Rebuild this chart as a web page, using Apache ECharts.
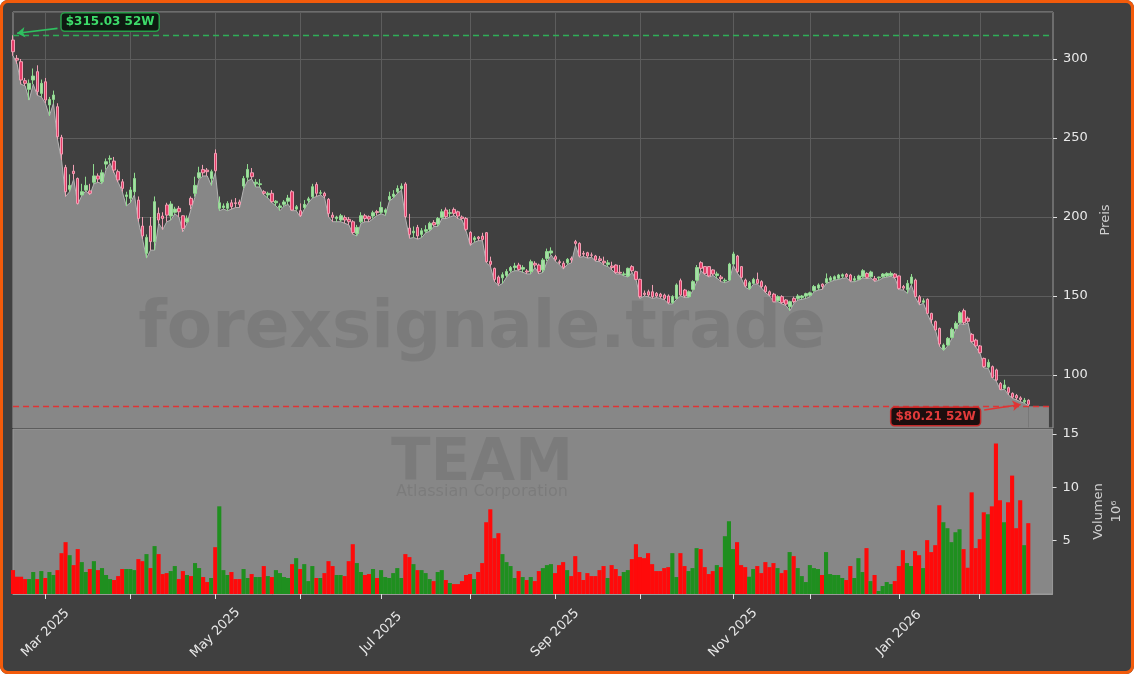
<!DOCTYPE html>
<html>
<head>
<meta charset="utf-8">
<script src="https://cdn.jsdelivr.net/npm/echarts@6/dist/echarts.min.js"></script>
<style>
  html, body { margin: 0; padding: 0; background: #ffffff; }
  #chart { position: absolute; left: 0; top: 0; width: 1134px; height: 674px; background: #404040; border-radius: 8px; }
  #frame { position: absolute; left: 0; top: 0; width: 1134px; height: 674px; box-sizing: border-box;
           border: 3px solid #f35b0b; border-radius: 8px; pointer-events: none; }
</style>
</head>
<body>
<div id="chart"></div>
<div id="frame"></div>
<script>
// TEAM daily candles, 2025-02-19 .. 2026-02-19
const startDay = '2025-02-19'
const holidays = ['2025-04-18', '2025-05-26', '2025-06-19', '2025-07-04', '2025-09-01',
  '2025-11-27', '2025-12-25', '2026-01-01', '2026-01-19', '2026-02-16']
const padDays = 6
const monthNames = ['Jan', 'Feb', 'Mar', 'Apr', 'May', 'Jun', 'Jul', 'Aug', 'Sep', 'Oct', 'Nov', 'Dec']

const open = [
  312.0, 300.4, 298.3, 286.3, 280.8, 286.7, 292.0, 278.2, 285.6, 270.9,
  274.4, 269.8, 250.4, 231.4, 217.5, 229.0, 224.4, 214.0, 217.0, 216.5,
  222.0, 226.0, 222.3, 233.5, 236.6, 235.4, 228.7, 222.3, 213.0, 211.8,
  216.0, 210.7, 194.3, 177.0, 194.3, 184.4, 202.3, 200.6, 207.6, 200.6,
  203.0, 205.5, 200.8, 197.0, 211.8, 215.0, 225.0, 230.0, 229.7, 224.4,
  240.3, 205.5, 206.0, 205.5, 209.0, 209.0, 209.5, 219.6, 225.1, 228.0,
  221.0, 220.5, 216.0, 214.0, 215.0, 209.0, 206.0, 208.0, 210.0, 216.0,
  205.0, 204.0, 206.0, 210.5, 212.8, 220.6, 215.0, 215.0, 211.2, 201.2,
  199.0, 198.1, 199.6, 198.5, 197.0, 189.6, 197.0, 200.8, 200.2, 200.6,
  203.4, 203.0, 203.0, 211.0, 213.0, 216.0, 218.0, 220.9, 193.0, 190.0,
  193.4, 189.0, 191.0, 192.2, 196.5, 195.5, 199.8, 204.4, 202.3, 204.8,
  203.3, 200.0, 199.1, 190.3, 185.6, 187.3, 187.9, 190.1, 172.0, 167.5,
  162.0, 161.5, 163.0, 166.0, 168.0, 169.6, 167.0, 165.8, 165.4, 170.7,
  169.6, 166.5, 173.8, 177.2, 174.9, 171.7, 170.7, 171.0, 173.8, 184.4,
  183.3, 177.0, 177.4, 176.0, 175.3, 173.5, 172.0, 170.0, 169.0, 169.6,
  165.0, 163.5, 162.7, 168.6, 165.4, 160.5, 151.8, 152.7, 152.7, 151.7,
  151.2, 150.6, 150.0, 145.8, 148.5, 159.7, 153.8, 149.6, 154.2, 160.0,
  171.1, 168.6, 168.6, 166.5, 163.0, 162.0, 159.5, 160.1, 170.2, 175.3,
  168.6, 160.1, 154.8, 158.0, 160.5, 159.1, 155.9, 152.7, 151.2, 147.0,
  149.6, 147.5, 143.2, 148.5, 148.5, 149.0, 150.0, 150.5, 153.5, 155.0,
  157.5, 158.5, 160.0, 160.5, 161.2, 162.5, 163.7, 163.3, 160.0, 160.5,
  162.2, 164.3, 162.2, 161.0, 161.5, 162.2, 162.7, 163.0, 163.9, 162.7,
  156.0, 154.0, 158.0, 160.1, 149.5, 146.0, 147.9, 139.0, 133.8, 129.5,
  116.2, 119.0, 123.8, 129.5, 133.1, 140.7, 135.9, 125.7, 122.1, 118.4,
  110.5, 105.0, 105.3, 103.2, 94.7, 91.6, 92.0, 88.4, 87.0, 85.5,
  83.0, 84.0
]
const high = [
  315.03, 302.5, 300.0, 288.0, 287.0, 294.0, 296.0, 287.0, 288.0, 276.0,
  280.0, 272.0, 252.0, 233.0, 227.0, 233.0, 225.0, 221.0, 225.5, 221.0,
  233.5, 227.6, 230.0, 237.0, 239.0, 238.0, 230.0, 224.0, 216.0, 219.0,
  228.0, 213.0, 200.0, 189.0, 200.0, 213.0, 206.0, 203.0, 209.0, 210.0,
  206.5, 207.0, 201.0, 201.0, 213.0, 225.5, 231.8, 233.0, 231.0, 230.0,
  242.8, 213.0, 208.6, 210.0, 211.0, 212.0, 211.0, 226.0, 233.5, 231.0,
  224.0, 224.0, 217.0, 216.0, 217.0, 210.7, 208.6, 210.7, 214.0, 217.0,
  207.6, 208.6, 210.7, 212.8, 221.0, 222.0, 217.0, 216.0, 212.0, 203.0,
  200.8, 202.0, 201.0, 200.0, 198.0, 195.0, 203.0, 202.0, 201.0, 204.0,
  204.5, 209.7, 205.5, 216.0, 217.0, 220.0, 221.3, 222.0, 202.0, 194.0,
  195.0, 193.0, 194.8, 197.0, 198.0, 200.0, 205.0, 206.0, 205.0, 206.0,
  204.0, 201.0, 200.0, 191.0, 188.0, 188.0, 190.0, 190.5, 174.9, 168.0,
  163.0, 165.0, 167.0, 169.0, 171.0, 171.0, 169.5, 167.0, 173.0, 172.0,
  170.5, 174.0, 180.0, 180.8, 176.0, 173.0, 172.0, 174.0, 175.0, 185.5,
  184.0, 178.5, 178.0, 177.5, 176.0, 175.3, 174.9, 172.8, 171.7, 170.0,
  169.6, 165.4, 168.0, 169.5, 166.0, 161.0, 153.5, 154.0, 157.0, 152.5,
  152.0, 151.5, 151.0, 150.5, 158.0, 161.0, 154.5, 153.5, 160.0, 169.6,
  172.0, 169.0, 169.0, 167.0, 165.4, 163.3, 161.2, 171.0, 178.0, 176.0,
  169.0, 161.0, 159.5, 161.5, 164.8, 160.0, 157.0, 153.5, 152.0, 150.5,
  150.5, 148.0, 147.0, 149.6, 151.2, 150.6, 152.1, 152.7, 157.0, 158.0,
  158.0, 164.3, 162.7, 163.0, 164.0, 164.3, 164.5, 164.0, 162.7, 163.5,
  167.0, 165.0, 166.0, 162.7, 162.2, 164.5, 165.0, 165.5, 164.5, 163.0,
  157.0, 160.1, 163.9, 161.0, 150.6, 148.5, 148.5, 139.4, 134.5, 130.0,
  120.0, 124.0, 130.0, 134.0, 140.5, 142.0, 137.0, 126.5, 123.0, 119.0,
  111.0, 109.9, 106.0, 104.0, 95.5, 97.0, 92.6, 89.0, 88.0, 86.5,
  85.5, 84.6
]
const low = [
  302.0, 297.0, 284.0, 283.0, 274.0, 284.0, 277.0, 276.0, 272.0, 264.0,
  272.0, 249.0, 236.0, 213.0, 216.0, 224.0, 208.0, 213.5, 216.5, 214.0,
  221.0, 222.0, 221.0, 230.0, 234.0, 228.0, 222.0, 216.0, 207.0, 209.0,
  214.0, 197.0, 186.0, 174.0, 179.0, 179.0, 196.0, 192.0, 197.0, 198.0,
  202.0, 200.0, 190.7, 196.0, 205.0, 212.8, 224.0, 226.0, 226.0, 220.0,
  228.0, 204.0, 205.0, 204.0, 205.0, 206.0, 206.0, 218.0, 223.0, 224.0,
  219.0, 219.0, 214.0, 212.0, 209.0, 207.0, 204.0, 207.0, 208.0, 204.0,
  204.0, 200.0, 205.0, 209.0, 212.0, 213.0, 214.0, 212.0, 200.0, 197.0,
  197.0, 197.0, 196.0, 195.0, 189.0, 188.0, 196.0, 197.0, 197.0, 199.0,
  201.0, 202.0, 201.0, 210.0, 212.0, 215.0, 217.0, 199.0, 186.5, 187.0,
  186.0, 187.0, 190.0, 191.0, 194.0, 194.0, 199.0, 199.0, 200.0, 201.0,
  199.0, 198.0, 191.0, 182.0, 184.0, 185.0, 185.0, 171.0, 168.5, 159.0,
  156.5, 158.0, 162.0, 165.0, 166.0, 166.0, 165.0, 164.0, 164.0, 168.0,
  164.0, 165.0, 172.0, 176.0, 172.0, 170.0, 167.0, 170.0, 171.0, 182.0,
  174.5, 175.0, 174.0, 174.5, 172.0, 171.7, 169.6, 168.6, 166.5, 164.0,
  163.9, 162.7, 162.0, 165.0, 160.0, 148.5, 150.0, 149.5, 148.5, 149.0,
  148.5, 147.5, 145.0, 145.0, 148.0, 150.0, 149.0, 149.0, 153.5, 159.1,
  166.0, 163.5, 162.0, 163.0, 161.2, 159.1, 158.4, 159.5, 169.5, 164.5,
  161.0, 155.5, 154.0, 157.5, 157.5, 155.0, 152.0, 150.0, 146.0, 146.5,
  145.0, 144.0, 140.7, 145.4, 147.5, 147.9, 148.5, 149.6, 152.7, 153.8,
  154.2, 158.0, 159.1, 160.0, 160.5, 161.2, 161.5, 159.0, 159.1, 160.0,
  161.5, 161.0, 161.5, 159.1, 160.0, 161.5, 162.0, 162.5, 161.0, 154.0,
  153.8, 151.7, 157.0, 149.0, 144.3, 145.4, 138.5, 132.7, 128.0, 118.0,
  115.5, 118.5, 123.0, 129.0, 132.5, 132.0, 133.0, 120.5, 117.5, 113.5,
  104.5, 104.2, 98.0, 96.0, 90.5, 91.0, 87.3, 85.2, 84.2, 83.1,
  82.1, 80.21
]
const close = [
  304.6, 299.3, 286.7, 284.6, 284.6, 289.2, 279.3, 284.6, 274.0, 274.4,
  277.2, 250.8, 239.8, 216.0, 220.0, 227.5, 208.6, 216.0, 220.0, 215.0,
  226.0, 224.0, 228.0, 235.0, 237.1, 229.7, 223.4, 218.1, 214.0, 217.1,
  224.4, 199.1, 188.0, 187.1, 184.4, 209.7, 198.1, 199.1, 201.2, 208.2,
  205.0, 203.3, 192.8, 199.0, 207.6, 220.0, 228.0, 228.0, 228.7, 228.7,
  229.3, 209.0, 207.0, 208.6, 206.5, 208.5, 208.0, 224.4, 230.1, 225.5,
  222.0, 221.0, 215.0, 215.0, 209.7, 210.0, 207.0, 209.5, 212.0, 204.4,
  206.5, 201.0, 208.0, 211.5, 219.2, 215.0, 215.4, 213.3, 202.3, 199.8,
  200.0, 200.8, 198.1, 197.0, 190.1, 193.4, 200.8, 199.1, 198.7, 202.7,
  202.8, 206.0, 204.5, 213.0, 214.5, 218.0, 219.6, 200.2, 189.0, 191.0,
  188.0, 191.3, 192.0, 196.0, 195.0, 199.1, 203.3, 200.2, 202.7, 202.3,
  200.6, 199.0, 192.2, 183.3, 186.8, 186.4, 185.8, 171.7, 170.0, 160.5,
  158.0, 163.5, 165.5, 168.0, 169.0, 166.8, 168.0, 165.2, 171.7, 169.6,
  165.4, 172.8, 178.1, 178.5, 173.2, 171.2, 168.1, 173.2, 172.8, 183.3,
  175.3, 176.5, 175.3, 175.8, 172.8, 172.5, 171.0, 171.0, 168.0, 164.8,
  164.5, 164.0, 167.5, 166.0, 160.5, 149.6, 151.0, 150.6, 149.6, 150.0,
  149.6, 148.5, 145.8, 149.6, 157.0, 150.6, 150.0, 152.7, 159.1, 168.0,
  167.5, 164.3, 162.7, 163.9, 164.0, 161.0, 160.0, 170.2, 176.6, 165.4,
  161.8, 156.3, 158.4, 160.5, 158.0, 155.9, 152.7, 150.6, 146.4, 149.6,
  145.8, 144.9, 146.4, 146.5, 150.0, 150.0, 151.5, 152.0, 156.0, 157.0,
  156.0, 161.0, 161.5, 162.2, 163.3, 163.5, 162.2, 159.7, 161.0, 162.7,
  166.0, 161.8, 165.2, 160.0, 162.0, 163.9, 164.3, 164.3, 161.8, 154.8,
  155.0, 158.0, 162.0, 149.6, 146.0, 147.0, 139.0, 135.0, 128.5, 119.6,
  119.0, 123.2, 128.9, 132.7, 139.4, 133.1, 134.0, 121.1, 118.4, 114.1,
  105.3, 108.0, 98.5, 96.8, 90.9, 93.7, 89.0, 86.0, 85.5, 84.5,
  84.0, 81.5
]
// volume in millions
const volume = [
  2.24, 1.62, 1.62, 1.40, 1.40, 2.06, 1.40, 2.15, 1.50, 2.06,
  1.78, 2.24, 3.83, 4.86, 3.64, 2.71, 4.21, 2.99, 2.06, 2.34,
  3.08, 2.24, 2.43, 1.78, 1.40, 1.31, 1.68, 2.34, 2.34, 2.34,
  2.24, 3.27, 3.08, 3.74, 2.43, 4.49, 3.74, 1.87, 1.96, 2.15,
  2.62, 1.40, 2.15, 1.78, 1.68, 2.90, 2.43, 1.59, 1.12, 1.50,
  4.39, 8.22, 2.24, 1.78, 2.06, 1.40, 1.40, 2.34, 1.50, 1.87,
  1.59, 1.59, 2.62, 1.68, 1.59, 2.24, 1.96, 1.59, 1.50, 2.80,
  3.36, 2.34, 2.80, 1.21, 2.62, 1.50, 1.50, 1.96, 3.08, 2.62,
  1.78, 1.78, 1.68, 3.08, 4.67, 2.90, 2.06, 1.78, 1.87, 2.34,
  1.50, 2.24, 1.59, 1.50, 1.96, 2.43, 1.50, 3.74, 3.46, 2.80,
  2.24, 2.24, 1.96, 1.40, 1.21, 2.06, 2.24, 1.31, 1.03, 0.93,
  0.93, 1.21, 1.78, 1.87, 1.40, 2.06, 2.90, 6.73, 7.94, 5.23,
  5.70, 3.74, 2.99, 2.62, 1.50, 2.15, 1.59, 1.31, 1.59, 1.21,
  2.15, 2.43, 2.71, 2.80, 1.96, 2.71, 2.99, 2.24, 1.68, 3.55,
  2.06, 1.31, 1.96, 1.68, 1.68, 2.24, 2.62, 1.50, 2.71, 2.34,
  1.68, 2.06, 2.24, 3.27, 4.67, 3.46, 3.36, 3.83, 2.80, 2.15,
  2.15, 2.43, 2.52, 3.83, 1.59, 3.83, 2.62, 2.15, 2.43, 4.30,
  4.21, 2.52, 1.87, 2.15, 2.71, 2.52, 5.42, 6.82, 4.21, 4.86,
  2.71, 2.52, 1.62, 2.34, 2.62, 1.96, 2.99, 2.52, 2.90, 2.43,
  1.96, 2.24, 3.93, 3.55, 2.43, 1.68, 1.12, 2.71, 2.43, 2.34,
  1.78, 3.93, 1.87, 1.78, 1.78, 1.50, 1.31, 2.62, 1.50, 3.36,
  2.06, 4.30, 1.21, 1.78, 0.28, 0.75, 1.12, 0.93, 1.21, 2.62,
  4.11, 2.90, 2.62, 4.02, 3.64, 2.43, 5.05, 3.93, 4.58, 8.32,
  6.73, 6.17, 4.86, 5.79, 6.07, 4.21, 2.46, 9.53, 4.30, 5.14,
  7.66, 7.48, 8.22, 14.1, 8.79, 6.73, 8.60, 11.1, 6.17, 8.79,
  4.58, 6.64
]

// trading-day categories (weekends and exchange holidays skipped), plus a few empty days on the right
function tradingDays(start, count) {
  const out = []
  const d = new Date(start + 'T12:00:00Z')
  while (out.length < count) {
    const iso = d.toISOString().slice(0, 10)
    const wd = d.getUTCDay()
    if (wd !== 0 && wd !== 6 && !holidays.includes(iso)) out.push(iso)
    d.setUTCDate(d.getUTCDate() + 1)
  }
  return out
}
const dates = tradingDays(startDay, close.length + padDays)

const monthStart = dates.map((d, i) => i > 0 && d.slice(5, 7) !== dates[i - 1].slice(5, 7))
const isMonthTick = (i) => monthStart[i]
const isMonthLabel = (i) => monthStart[i] && (+dates[i].slice(5, 7)) % 2 === 1

const high52 = Math.max(...high)
const low52 = Math.min(...low)
const priceMin = 66.46
const priceMax = 329.75
const volMax = 15.47

const UP = '#a8dca8', UP_EDGE = '#8fdc8f'
const DOWN = '#e43c68', DOWN_EDGE = '#f0a0b4'
const VOL_UP = '#1f8f1f', VOL_DOWN = '#ff0a0a'
const FILL = '#878787'
const FONT = 'DejaVu Sans'
const WATERMARK = 'rgba(0,0,0,0.085)'

const candles = open.map((o, i) => [o, close[i], low[i], high[i]])
const volBars = volume.map((v, i) => ({
  value: v,
  itemStyle: { color: close[i] >= open[i] ? VOL_UP : VOL_DOWN },
}))

const chart = echarts.init(document.getElementById('chart'))

chart.setOption({
  animation: false,
  backgroundColor: 'transparent',
  textStyle: { fontFamily: FONT },
  grid: [
    { left: 13, right: 81, top: 12, height: 416, show: true, borderColor: '#9a9a9a', borderWidth: 1 },
    { left: 13, right: 81, top: 429, height: 165, show: true, borderColor: '#9a9a9a', borderWidth: 1, backgroundColor: FILL },
  ],
  xAxis: [
    {
      type: 'category', gridIndex: 0, data: dates, boundaryGap: false,
      axisLine: { show: false }, axisTick: { show: false }, axisLabel: { show: false },
      splitLine: { show: true, interval: isMonthTick, lineStyle: { color: '#5d5d5d', width: 1 } },
    },
    {
      type: 'category', gridIndex: 1, data: dates, boundaryGap: false,
      axisLine: { show: true, lineStyle: { color: '#9a9a9a' } },
      axisTick: { show: true, interval: isMonthTick, length: 5, lineStyle: { color: '#e0e0e0' } },
      axisLabel: {
        interval: isMonthLabel, rotate: 45, align: 'center', verticalAlign: 'middle', margin: 39,
        color: '#e8e8e8', fontSize: 13, fontFamily: FONT,
        formatter: (v) => monthNames[+v.slice(5, 7) - 1] + ' ' + v.slice(0, 4),
      },
      splitLine: { show: false },
    },
  ],
  yAxis: [
    {
      type: 'value', gridIndex: 0, position: 'right', min: priceMin, max: priceMax, splitNumber: 5,
      axisLine: { show: false },
      axisTick: { show: true, length: 4, lineStyle: { color: '#e0e0e0' } },
      axisLabel: { color: '#e8e8e8', fontSize: 13, fontFamily: FONT, margin: 10, showMinLabel: false, showMaxLabel: false },
      splitLine: { show: true, lineStyle: { color: '#5d5d5d', width: 1 } },
      name: 'Preis', nameLocation: 'middle', nameRotate: 90, nameGap: 44,
      nameTextStyle: { color: '#cfcfcf', fontSize: 13, fontFamily: FONT },
    },
    {
      type: 'value', gridIndex: 1, position: 'right', min: 0, max: volMax, interval: 5,
      axisLine: { show: false },
      axisTick: { show: true, length: 4, lineStyle: { color: '#e0e0e0' } },
      axisLabel: { color: '#e8e8e8', fontSize: 13, fontFamily: FONT, margin: 10, showMinLabel: false, showMaxLabel: false },
      splitLine: { show: false },
      name: 'Volumen\n10⁶', nameLocation: 'middle', nameRotate: 90, nameGap: 34,
      nameTextStyle: { color: '#cfcfcf', fontSize: 13, fontFamily: FONT, lineHeight: 18 },
    },
  ],
  graphic: [
    {
      type: 'text', x: 482, y: 330, z: 100, silent: true,
      style: { text: 'forexsignale.trade', font: 'bold 66px "DejaVu Sans"', fill: WATERMARK, align: 'center', verticalAlign: 'middle' },
    },
    {
      type: 'text', x: 482, y: 465, z: 100, silent: true,
      style: { text: 'TEAM', font: 'bold 58px "DejaVu Sans"', fill: WATERMARK, align: 'center', verticalAlign: 'middle' },
    },
    {
      type: 'text', x: 482, y: 492, z: 100, silent: true,
      style: { text: 'Atlassian Corporation', font: '16px "DejaVu Sans"', fill: WATERMARK, align: 'center', verticalAlign: 'middle' },
    },
  ],
  series: [
    {
      name: 'low', type: 'line', xAxisIndex: 0, yAxisIndex: 0, data: low,
      symbol: 'none', z: 1, silent: true,
      lineStyle: { color: '#b4b4b4', width: 1 },
      areaStyle: { color: FILL, opacity: 1, origin: 'start' },
      markArea: {
        silent: true,
        itemStyle: { color: FILL },
        data: [[{ xAxis: dates[close.length - 1], yAxis: priceMin }, { xAxis: dates[close.length + 4], yAxis: low52 }]],
      },
    },
    {
      name: 'TEAM', type: 'candlestick', xAxisIndex: 0, yAxisIndex: 0, data: candles,
      barWidth: 3, clip: false, z: 3,
      itemStyle: { color: UP, color0: DOWN, borderColor: UP_EDGE, borderColor0: DOWN_EDGE, borderWidth: 1 },
      markLine: {
        silent: true, symbol: 'none', label: { show: false },
        data: [
          { yAxis: high52, lineStyle: { color: '#2fae57', type: [6, 4], width: 1.3 } },
          { yAxis: low52, lineStyle: { color: '#e03434', type: [6, 4], width: 1.3 } },
          [
            { coord: [dates[11], 319.4], symbol: 'none', lineStyle: { color: '#2fbf5f', type: 'solid', width: 1.6 } },
            { coord: [dates[1], 316.3], symbol: 'arrow', symbolSize: 8 },
          ],
          [
            { coord: [dates[240], 77.8], symbol: 'none', lineStyle: { color: '#e03434', type: 'solid', width: 1.6 } },
            { coord: [dates[249], 81.3], symbol: 'arrow', symbolSize: 8 },
          ],
        ],
      },
      markPoint: {
        silent: true, symbol: 'rect', symbolSize: 1, itemStyle: { color: 'transparent' },
        data: [
          {
            coord: [dates[24], 323.4],
            label: {
              show: true, position: 'inside', formatter: '$' + high52.toFixed(2) + ' 52W',
              color: '#3ddc6a', backgroundColor: '#0e1a11', borderColor: '#2a9d4a', borderWidth: 1.5, borderRadius: 3,
              padding: [3, 4, 2, 4], fontWeight: 'bold', fontSize: 12, fontFamily: FONT,
            },
          },
          {
            coord: [dates[228], 73.7],
            label: {
              show: true, position: 'inside', formatter: '$' + low52.toFixed(2) + ' 52W',
              color: '#e23b3b', backgroundColor: '#1c0e0e', borderColor: '#c42a2a', borderWidth: 1.5, borderRadius: 3,
              padding: [3, 4, 2, 4], fontWeight: 'bold', fontSize: 12, fontFamily: FONT,
            },
          },
        ],
      },
    },
    {
      name: 'Volumen', type: 'bar', xAxisIndex: 1, yAxisIndex: 1, data: volBars,
      barWidth: 4.1, clip: false, z: 2, silent: true,
    },
  ],
})
</script>
</body>
</html>
